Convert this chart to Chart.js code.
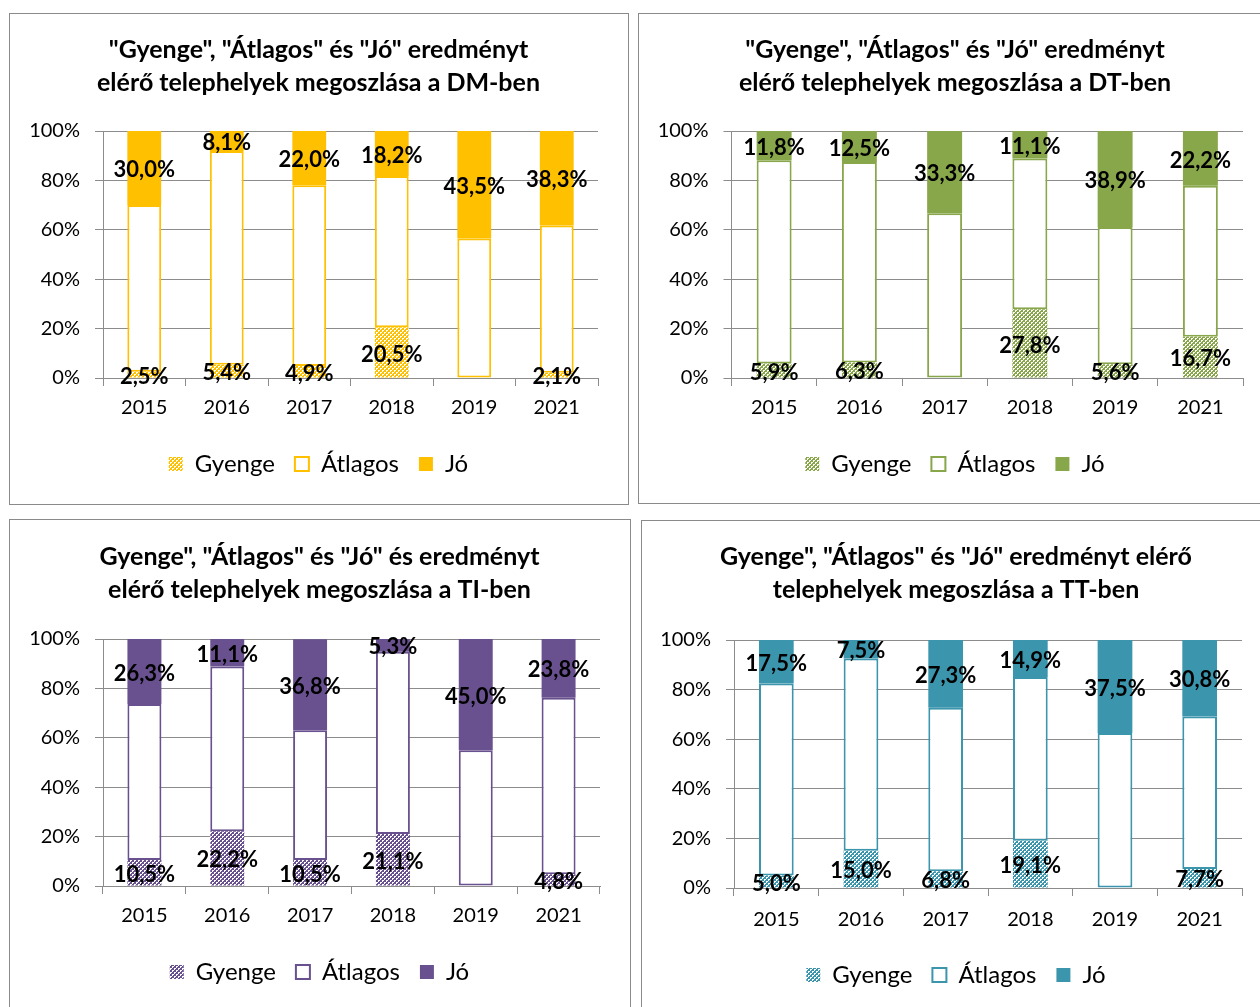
<!DOCTYPE html>
<html>
<head>
<meta charset="utf-8">
<script src="https://cdn.jsdelivr.net/npm/chart.js@4/dist/chart.umd.min.js"></script>
<style>
  html, body { margin:0; padding:0; background:#fff; width:1260px; height:1007px; overflow:hidden; }
  .panel { position:absolute; box-sizing:border-box; border:1px solid #8a8a8a; background:#fff; }
  canvas { position:absolute; }
</style>
</head>
<body>
<div class="panel" style="left:9px;top:13px;width:620px;height:492px;"></div>
<div class="panel" style="left:638px;top:13px;width:640px;height:491px;"></div>
<div class="panel" style="left:9px;top:519px;width:622px;height:520px;"></div>
<div class="panel" style="left:641px;top:520px;width:640px;height:520px;"></div>
<canvas id="c1" width="617" height="489" style="left:10px;top:14px;"></canvas>
<canvas id="c2" width="632" height="488" style="left:639px;top:14px;"></canvas>
<canvas id="c3" width="619" height="500" style="left:10px;top:520px;"></canvas>
<canvas id="c4" width="628" height="500" style="left:642px;top:521px;"></canvas>
<script>
// ---- data ----
const years = ['2015', '2016', '2017', '2018', '2019', '2021'];
const seriesNames = ['Gyenge', 'Átlagos', 'Jó'];
const yTickValues = [0, 20, 40, 60, 80, 100];

const dmGyenge  = [2.5, 5.4, 4.9, 20.5, 0, 2.1];
const dmAtlagos = [67.5, 86.5, 73.1, 61.3, 56.5, 59.6];
const dmJo      = [30.0, 8.1, 22.0, 18.2, 43.5, 38.3];

const dtGyenge  = [5.9, 6.3, 0, 27.8, 5.6, 16.7];
const dtAtlagos = [82.3, 81.2, 66.7, 61.1, 55.5, 61.1];
const dtJo      = [11.8, 12.5, 33.3, 11.1, 38.9, 22.2];

const tiGyenge  = [10.5, 22.2, 10.5, 21.1, 0, 4.8];
const tiAtlagos = [63.2, 66.7, 52.6, 73.7, 55.0, 71.4];
const tiJo      = [26.3, 11.1, 36.8, 5.3, 45.0, 23.8];

const ttGyenge  = [5.0, 15.0, 6.8, 19.1, 0, 7.7];
const ttAtlagos = [77.5, 77.5, 65.9, 66.0, 62.5, 61.5];
const ttJo      = [17.5, 7.5, 27.3, 14.9, 37.5, 30.8];

const dmTitle = ['"Gyenge", "Átlagos" és "Jó" eredményt', 'elérő telephelyek megoszlása a DM-ben'];
const dtTitle = ['"Gyenge", "Átlagos" és "Jó" eredményt', 'elérő telephelyek megoszlása a DT-ben'];
const tiTitle = ['Gyenge", "Átlagos" és "Jó" és eredményt', 'elérő telephelyek megoszlása a TI-ben'];
const ttTitle = ['Gyenge", "Átlagos" és "Jó" eredményt elérő', 'telephelyek megoszlása a TT-ben'];

// ---- styling / layout ----
const FONT = 'Lato, "Open Sans", sans-serif';
const GRID = '#8c8c8c';
const TITLE_SIZE = 25, TITLE_LH = 33;
const LEG_SIZE = 24, LEG_PAD = 20;
const TICK_SIZE = 20;
const LABEL_SIZE = 22;
const LABEL_DY = 2;
const TL = 8;

function makePattern(color) {
  const c = document.createElement('canvas');
  c.width = 4; c.height = 4;
  const g = c.getContext('2d');
  g.fillStyle = color; g.fillRect(0, 0, 4, 4);
  g.fillStyle = '#ffffff';
  g.fillRect(0, 0, 2, 1); g.fillRect(0, 1, 1, 1);
  g.fillRect(2, 2, 2, 1); g.fillRect(2, 3, 1, 1);
  return g.createPattern(c, 'repeat');
}

const labelPlugin = {
  id: 'segLabels',
  afterLayout(chart) {
    // centre title and legend on the whole canvas (= the panel)
    [chart.titleBlock, chart.legend].forEach(b => { if (b) { b.left = 0; b.right = chart.width; } });
  },
  afterDatasetsDraw(chart) {
    const ctx = chart.ctx;
    chart.data.datasets.forEach((ds, i) => {
      if (!ds.showLabels) return;
      const meta = chart.getDatasetMeta(i);
      meta.data.forEach((bar, j) => {
        const v = ds.data[j];
        if (!v) return;
        const p = bar.getProps(['x', 'y', 'base'], true);
        ctx.save();
        ctx.font = 'bold ' + LABEL_SIZE + 'px ' + FONT;
        ctx.fillStyle = '#000';
        ctx.textAlign = 'center';
        ctx.textBaseline = 'middle';
        ctx.fillText(v.toFixed(1).replace('.', ',') + '%', p.x, (p.y + p.base) / 2 + LABEL_DY);
        ctx.restore();
      });
    });
  }
};

function build(id, geo, title, color, gy, at, jo) {
  const cv = document.getElementById(id);
  const w = cv.width, h = cv.height;
  const padR = w - geo.plotRight;
  const yWidth = geo.plotLeft;
  const tPadTop = geo.titleY - TITLE_LH / 2;
  const tPadBottom = geo.plotTop - (tPadTop + TITLE_LH * title.length);
  const legTop = geo.legendY - LEG_PAD - LEG_SIZE / 2;
  const padBottom = h - (legTop + LEG_SIZE + LEG_PAD + 10);
  const xHeight = legTop - geo.plotBottom;
  const xTickPad = geo.xLabelY - geo.plotBottom - TL - TICK_SIZE * 1.2 / 2;

  new Chart(cv, {
    type: 'bar',
    data: {
      labels: years,
      datasets: [
        { label: seriesNames[0], data: gy, backgroundColor: makePattern(color), borderWidth: 0, showLabels: true },
        { label: seriesNames[1], data: at, backgroundColor: '#ffffff', borderColor: color, borderWidth: 2, borderSkipped: false, showLabels: false },
        { label: seriesNames[2], data: jo, backgroundColor: color, borderWidth: 0, showLabels: true }
      ]
    },
    options: {
      responsive: false,
      animation: false,
      devicePixelRatio: 1,
      layout: { padding: { left: 0, right: padR, top: 0, bottom: padBottom } },
      datasets: { bar: { barPercentage: 0.41, categoryPercentage: 1 } },
      plugins: {
        tooltip: { enabled: false },
        title: {
          display: true, text: title, color: '#000',
          font: { family: FONT, size: TITLE_SIZE, weight: 'bold', lineHeight: TITLE_LH / TITLE_SIZE },
          padding: { top: tPadTop, bottom: tPadBottom }
        },
        legend: {
          position: 'bottom',
          labels: { color: '#000', boxWidth: 14, boxHeight: 14, padding: LEG_PAD, font: { family: FONT, size: LEG_SIZE } }
        }
      },
      scales: {
        x: {
          stacked: true,
          grid: { display: true, drawOnChartArea: false, drawTicks: true, tickLength: TL, color: GRID, offset: true },
          border: { display: true, color: GRID, width: 1 },
          ticks: { color: '#000', padding: xTickPad, font: { family: FONT, size: TICK_SIZE } },
          afterFit(s) { s.height = xHeight; }
        },
        y: {
          stacked: true, min: 0, max: 100,
          afterBuildTicks(s) { s.ticks = yTickValues.map(v => ({ value: v })); },
          grid: { color: GRID, tickLength: TL, drawTicks: true },
          border: { display: true, color: GRID, width: 1 },
          ticks: { color: '#000', padding: 15, font: { family: FONT, size: TICK_SIZE }, callback: v => v + '%' },
          afterFit(s) { s.width = yWidth; }
        }
      }
    },
    plugins: [labelPlugin]
  });
}

build('c1', { titleY: 36, plotTop: 117, plotBottom: 364, plotLeft: 93, plotRight: 588, xLabelY: 394, legendY: 450 },
  dmTitle, '#FFC000', dmGyenge, dmAtlagos, dmJo);
build('c2', { titleY: 36, plotTop: 117, plotBottom: 364, plotLeft: 92.5, plotRight: 604, xLabelY: 394, legendY: 450 },
  dtTitle, '#88A64A', dtGyenge, dtAtlagos, dtJo);
build('c3', { titleY: 37, plotTop: 119, plotBottom: 366, plotLeft: 93, plotRight: 590, xLabelY: 396, legendY: 452 },
  tiTitle, '#69518F', tiGyenge, tiAtlagos, tiJo);
build('c4', { titleY: 36, plotTop: 119, plotBottom: 367, plotLeft: 92, plotRight: 600, xLabelY: 399, legendY: 454 },
  ttTitle, '#3B95AD', ttGyenge, ttAtlagos, ttJo);
</script>
</body>
</html>
